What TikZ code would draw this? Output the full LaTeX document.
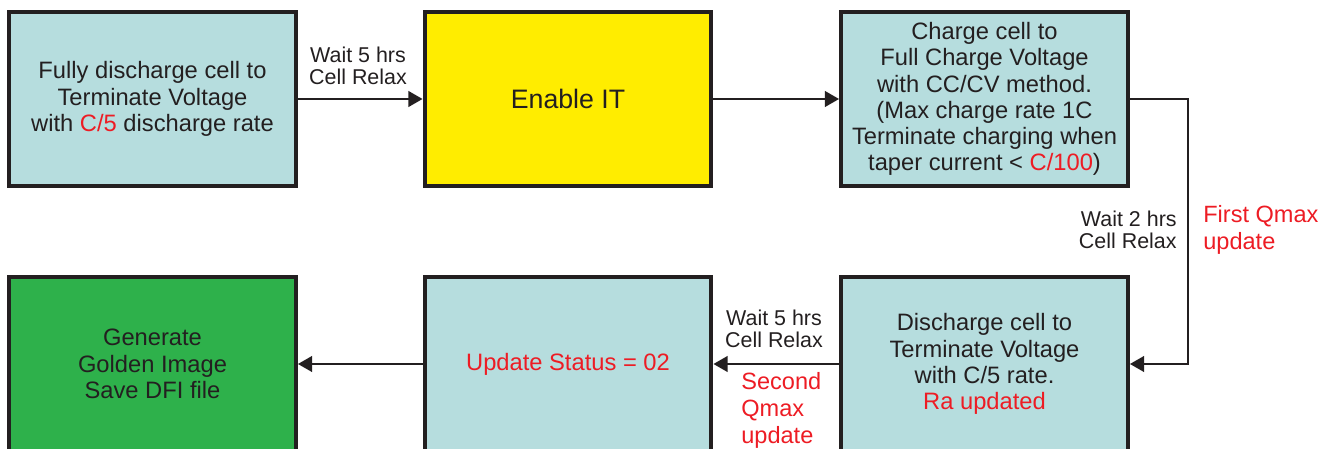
\documentclass[tikz,border=0pt]{standalone}
\usepackage{fontspec}
\setmainfont{Liberation Sans}
\usetikzlibrary{arrows.meta}
\definecolor{cellblue}{RGB}{182,221,222}
\definecolor{enableyellow}{RGB}{255,237,0}
\definecolor{goldgreen}{RGB}{46,177,75}
\definecolor{noteRed}{RGB}{237,28,36}
\definecolor{boxline}{RGB}{35,31,32}
\tikzset{
	stepbox/.style={draw=boxline, text=boxline, line width=2.3pt, minimum width=5.74cm, minimum height=3.48cm, inner sep=0pt, align=center, font=\fontsize{13.5}{14.9}\selectfont},
	flow/.style={draw=boxline, line width=0.75pt, -{Triangle[length=8pt,width=9pt]}},
	waitlbl/.style={text=boxline, inner sep=0pt, font=\fontsize{12.2}{12.8}\selectfont},
	notelbl/.style={text=noteRed, inner sep=0pt, align=left, font=\fontsize{13.4}{15.4}\selectfont},
}
\newcommand{\redtx}[1]{\textcolor{noteRed}{#1}}
\begin{document}
\begin{tikzpicture}[x=0.02cm, y=-0.02cm]
		\useasboundingbox (0,0) rectangle (1333,449);
		\node[stepbox, fill=cellblue] (fullDis) at (152.5,99) {Fully discharge cell to\\Terminate Voltage\\with \redtx{C/5} discharge rate};
		\node[stepbox, fill=enableyellow, font=\fontsize{15.2}{17}\selectfont] (enable) at (568,99) {Enable IT};
		\node[stepbox, fill=cellblue] (charge) at (984.5,99) {Charge cell to\\Full Charge Voltage\\with CC/CV method.\\(Max charge rate 1C\\Terminate charging when\\taper current < \redtx{C/100})};
		\node[stepbox, fill=cellblue] (dischg) at (984.5,364) {Discharge cell to\\Terminate Voltage\\with C/5 rate.\\\redtx{Ra updated}};
		\node[stepbox, fill=cellblue] (status) at (568,364) {\redtx{Update Status = 02}};
		\node[stepbox, fill=goldgreen] (golden) at (152.5,364) {Generate\\Golden Image\\Save DFI file};
		\coordinate (turn) at (1188,99);
		\draw[flow] (fullDis) -- (enable);
		\draw[flow] (enable) -- (charge);
		\draw[flow] (charge.east) -- (turn) |- (dischg.east);
		\draw[flow] (dischg) -- (status);
		\draw[flow] (status) -- (golden);
		\node[waitlbl, align=center] (relaxA) at (358,66) {Wait 5 hrs\\Cell Relax};
		\node[waitlbl, align=right, anchor=east] (relaxB) at (1177,230) {Wait 2 hrs\\Cell Relax};
		\node[waitlbl, align=center] (relaxC) at (774,329) {Wait 5 hrs\\Cell Relax};
		\node[notelbl, anchor=west] (firstQ) at (1203,230) {First Qmax\\update};
		\node[notelbl, anchor=west] (secondQ) at (741,410) {Second\\Qmax\\update};
	\end{tikzpicture}
\end{document}
